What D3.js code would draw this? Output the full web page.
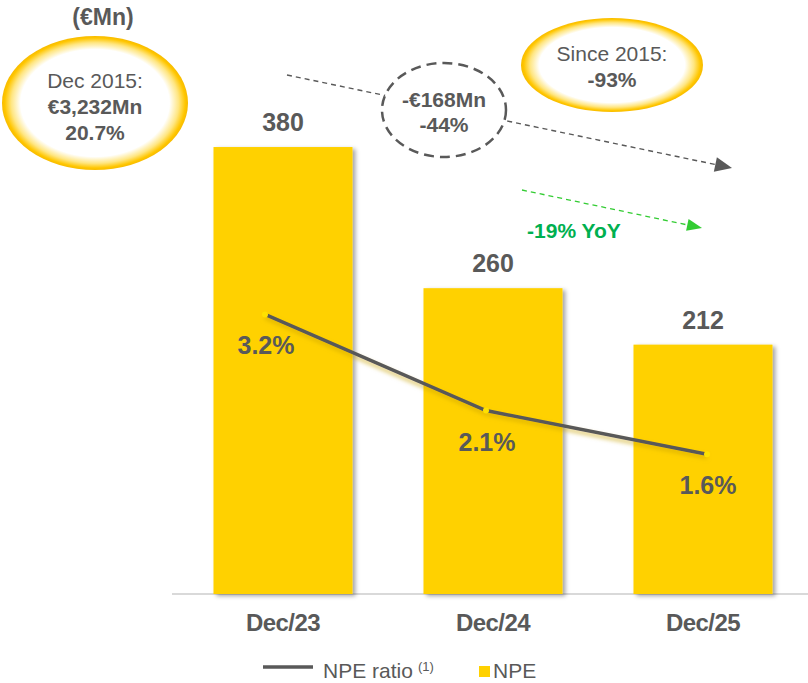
<!DOCTYPE html>
<html>
<head>
<meta charset="utf-8">
<script src="https://cdn.jsdelivr.net/npm/d3@7/dist/d3.min.js"></script>
<style>
  html, body { margin: 0; padding: 0; background: #fff; }
  svg { display: block; font-family: "Liberation Sans", Arial, sans-serif; }
</style>
</head>
<body>
<svg id="chart" width="808" height="683"></svg>
<script>
// Chart data
const categories = ["Dec/23", "Dec/24", "Dec/25"];
const npeValues = [380, 260, 212];          // NPE stock, €Mn
const npeRatio = [3.2, 2.1, 1.6];           // NPE ratio, %
const ratioLabels = ["3.2%", "2.1%", "1.6%"];
const legendItems = ["NPE ratio", "NPE"];

// Call-out texts
const unitLabel = "(€Mn)";
const baseCallout = ["Dec 2015:", "€3,232Mn", "20.7%"];
const sinceCallout = ["Since 2015:", "-93%"];
const changeCallout = ["-€168Mn", "-44%"];
const yoyLabel = "-19% YoY";

const W = 808, H = 683;
const grey = "#595959";
const yellow = "#ffd100";

const svg = d3.select("#chart");
const defs = svg.append("defs");

// Soft shadow behind the bars
const barShadow = defs.append("filter").attr("id", "barShadow")
  .attr("x", "-10%").attr("y", "-10%").attr("width", "130%").attr("height", "130%");
barShadow.append("feDropShadow").attr("dx", 3).attr("dy", 2).attr("stdDeviation", 2)
  .attr("flood-color", "#000").attr("flood-opacity", 0.35);

// Warm glow under the ratio line
const lineGlow = defs.append("filter").attr("id", "lineGlow")
  .attr("x", "-10%").attr("y", "-30%").attr("width", "120%").attr("height", "160%");
lineGlow.append("feDropShadow").attr("dx", 0).attr("dy", 3).attr("stdDeviation", 2)
  .attr("flood-color", "#c9a200").attr("flood-opacity", 0.6);

// Golden rim for the call-out ellipses
const rim = defs.append("radialGradient").attr("id", "goldRim");
[[0, "#ffffff"], [0.8, "#ffffff"], [0.9, "#ffe682"], [0.97, "#ffc600"], [1, "#f7bb00"]]
  .forEach(([o, c]) => rim.append("stop").attr("offset", o).attr("stop-color", c));

// Scales
const baseY = 594;
const x = d3.scaleBand().domain(categories).range([178, 808]).paddingInner(0.338).paddingOuter(0.169);
const y = d3.scaleLinear().domain([0, 505]).range([baseY, 0]);
const xr = d3.scalePoint().domain(categories).range([265, 707]);
const yr = d3.scaleLinear().domain([0, 6.8]).range([baseY, 0]);

// Axis along the bottom
const axis = svg.append("g").attr("transform", `translate(0,${baseY})`)
  .call(d3.axisBottom(x).tickSize(0).tickPadding(0));
axis.select(".domain").remove();
axis.insert("line", ":first-child")
  .attr("x1", x.range()[0] - 6).attr("x2", x.range()[1])
  .attr("stroke", "#d9d9d9").attr("stroke-width", 2);
axis.selectAll(".tick text")
  .attr("y", 37).attr("dy", 0)
  .attr("fill", grey).attr("font-size", 24).attr("font-weight", "bold")
  .attr("letter-spacing", -0.6)
  .attr("font-family", "'Liberation Sans', Arial, sans-serif");

// Bars
svg.append("g").selectAll("rect").data(npeValues).join("rect")
  .attr("x", (d, i) => x(categories[i]))
  .attr("y", d => y(d))
  .attr("width", x.bandwidth())
  .attr("height", d => baseY - y(d))
  .attr("fill", yellow)
  .attr("filter", "url(#barShadow)");

// Bar value labels
svg.append("g").selectAll("text").data(npeValues).join("text")
  .attr("x", (d, i) => x(categories[i]) + x.bandwidth() / 2)
  .attr("y", d => y(d) - 16)
  .attr("text-anchor", "middle")
  .attr("fill", grey).attr("font-size", 25).attr("font-weight", "bold")
  .text(d => d);

// NPE ratio line
const line = d3.line().x((d, i) => xr(categories[i])).y(d => yr(d));
svg.append("path").datum(npeRatio)
  .attr("d", line)
  .attr("fill", "none").attr("stroke", grey).attr("stroke-width", 3.5)
  .attr("filter", "url(#lineGlow)");
svg.append("g").selectAll("circle").data(npeRatio).join("circle")
  .attr("cx", (d, i) => xr(categories[i])).attr("cy", d => yr(d))
  .attr("r", 3).attr("fill", "#ffe100");
svg.append("g").selectAll("text").data(npeRatio).join("text")
  .attr("x", (d, i) => xr(categories[i]) + 1)
  .attr("y", d => yr(d) + 40)
  .attr("text-anchor", "middle")
  .attr("fill", grey).attr("font-size", 25).attr("font-weight", "bold")
  .text((d, i) => ratioLabels[i]);

// Unit label
svg.append("text").attr("x", 103).attr("y", 25).attr("text-anchor", "middle")
  .attr("fill", grey).attr("font-size", 23).attr("font-weight", "bold").text(unitLabel);

// Call-out ellipse helper
function callout(cx, cy, rx, ry, lines, firstBaseline, weights) {
  const g = svg.append("g");
  g.append("ellipse").attr("cx", cx).attr("cy", cy).attr("rx", rx).attr("ry", ry)
    .attr("fill", "url(#goldRim)");
  lines.forEach((t, i) => {
    g.append("text").attr("x", cx).attr("y", firstBaseline + i * 26)
      .attr("text-anchor", "middle").attr("fill", grey).attr("font-size", 21)
      .attr("font-weight", weights[i]).text(t);
  });
}
callout(95, 103, 93, 67, baseCallout, 88, ["normal", "bold", "bold"]);
callout(612, 65, 91, 47, sinceCallout, 61, ["normal", "bold"]);

// Dashed trend arrow (grey) with the change bubble on top of it
function arrow(x1, y1, x2, y2, color, dash, width, headLen, headW) {
  const g = svg.append("g");
  const ang = Math.atan2(y2 - y1, x2 - x1);
  const bx = x2 - headLen * Math.cos(ang), by = y2 - headLen * Math.sin(ang);
  g.append("line").attr("x1", x1).attr("y1", y1).attr("x2", bx).attr("y2", by)
    .attr("stroke", color).attr("stroke-width", width).attr("stroke-dasharray", dash);
  const px = -Math.sin(ang) * headW / 2, py = Math.cos(ang) * headW / 2;
  g.append("polygon")
    .attr("points", `${x2},${y2} ${bx + px},${by + py} ${bx - px},${by - py}`)
    .attr("fill", color);
}
arrow(287, 75, 732, 168, grey, "5,4", 1.4, 17, 15);

const bubble = svg.append("g");
bubble.append("ellipse").attr("cx", 444).attr("cy", 110).attr("rx", 62).attr("ry", 47)
  .attr("fill", "#fff").attr("stroke", grey).attr("stroke-width", 2.5)
  .attr("stroke-dasharray", "10,6");
changeCallout.forEach((t, i) => {
  bubble.append("text").attr("x", 444).attr("y", 107 + i * 25).attr("text-anchor", "middle")
    .attr("fill", grey).attr("font-size", 21).attr("font-weight", "bold").text(t);
});

// Year-on-year arrow (green)
arrow(522, 190, 702, 228, "#33cc33", "5,4", 1.3, 15, 12);
svg.append("text").attr("x", 574).attr("y", 238).attr("text-anchor", "middle")
  .attr("fill", "#00b050").attr("font-size", 21).attr("font-weight", "bold").text(yoyLabel);

// Legend
const lg = svg.append("g");
lg.append("line").attr("x1", 263).attr("x2", 313).attr("y1", 667).attr("y2", 667)
  .attr("stroke", grey).attr("stroke-width", 3.5);
const lt = lg.append("text").attr("x", 323).attr("y", 678).attr("fill", grey).attr("font-size", 21);
lt.append("tspan").text(legendItems[0]);
lt.append("tspan").attr("dx", 5).attr("dy", -7).attr("font-size", 13).text("(1)");
lg.append("rect").attr("x", 479).attr("y", 666).attr("width", 11).attr("height", 11).attr("fill", yellow);
lg.append("text").attr("x", 493).attr("y", 678).attr("fill", grey).attr("font-size", 21).text(legendItems[1]);
</script>
</body>
</html>
